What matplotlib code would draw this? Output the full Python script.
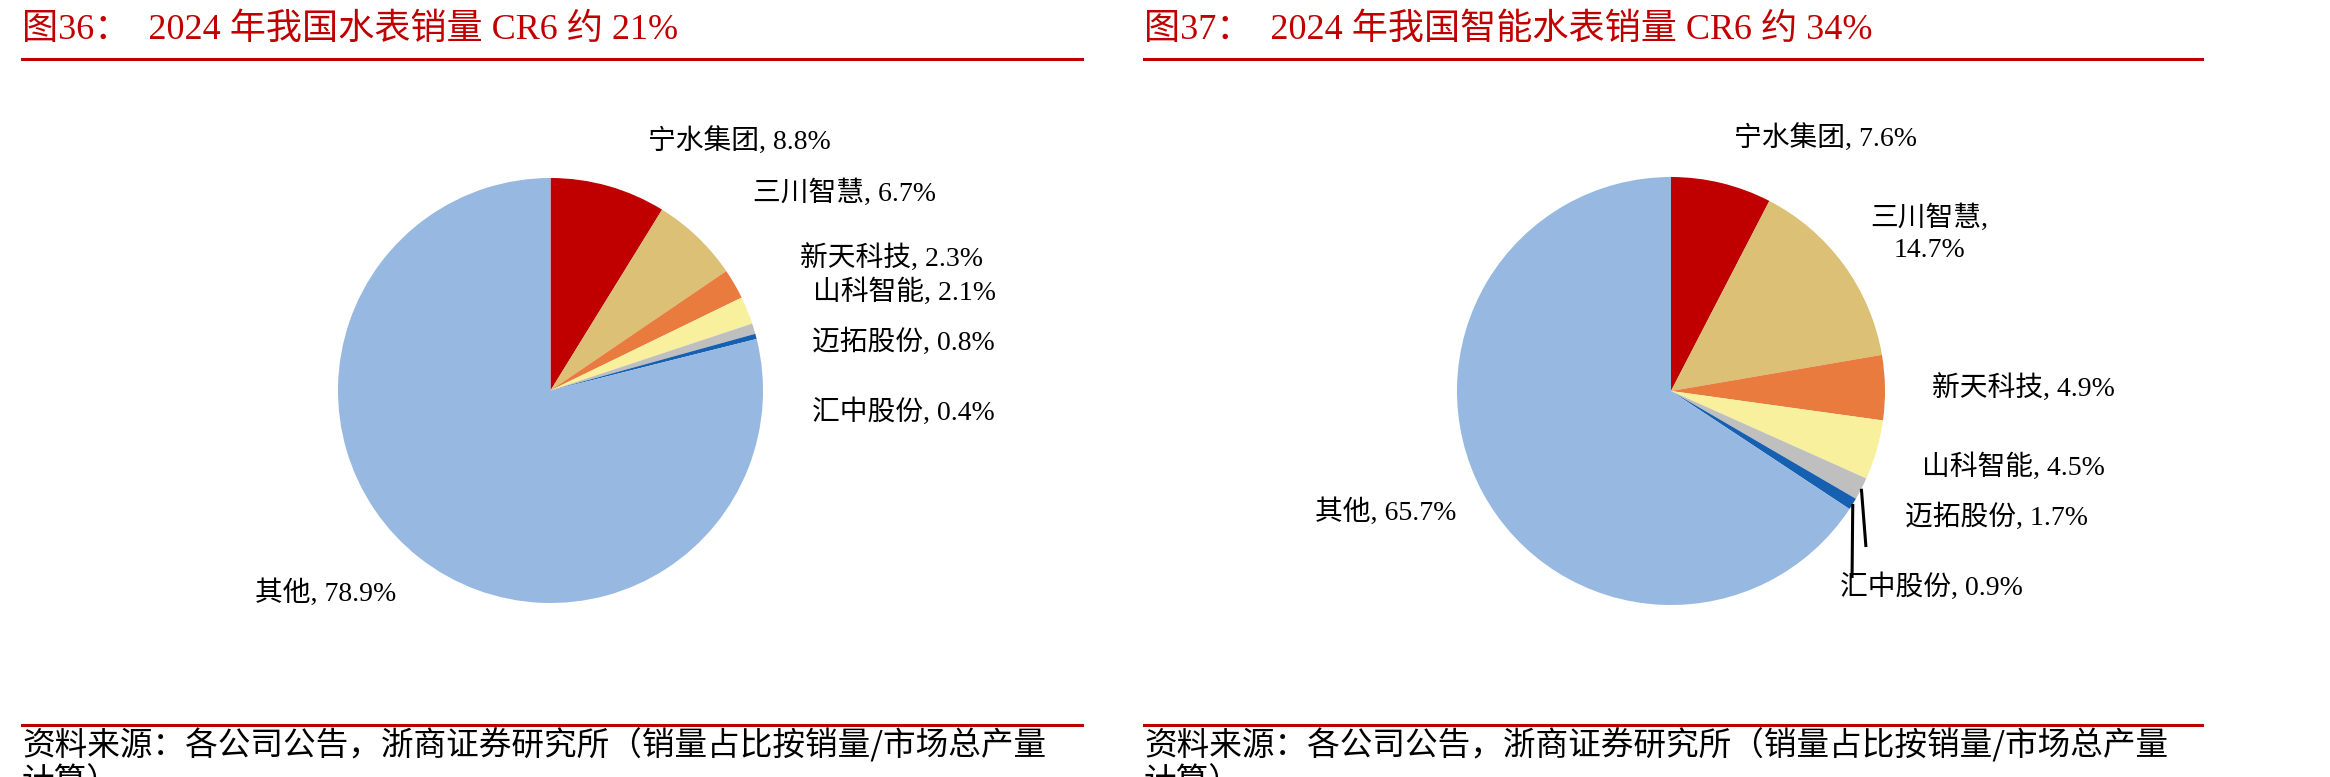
import matplotlib
matplotlib.use("Agg")
import matplotlib.pyplot as plt
import numpy as np

# ---------------- data ----------------
titles = ["图36：  2024 年我国水表销量 CR6 约 21%",
          "图37：  2024 年我国智能水表销量 CR6 约 34%"]
source_lines = ["资料来源：各公司公告，浙商证券研究所（销量占比按销量/市场总产量",
                "计算）"]

companies = ["宁水集团", "三川智慧", "新天科技", "山科智能", "迈拓股份", "汇中股份", "其他"]
share_all = [8.8, 6.7, 2.3, 2.1, 0.8, 0.4, 78.9]
share_smart = [7.6, 14.7, 4.9, 4.5, 1.7, 0.9, 65.7]

colors = ["#C00000", "#DBC075", "#E97B3F", "#F8F09C", "#BFBFBF", "#1560B0", "#97B8E0"]

# ---------------- layout (positions only) ----------------
W, H = 2330, 777
DPI = 100
pie_centers = [(550.5, 390.5), (1671, 391)]
pie_radius = [212.5, 214]

# label positions in pie-data units (radius = 1)
label_pos_left = [(0.888, 1.173), (1.383, 0.930), (1.607, 0.626), (1.664, 0.463),
                  (1.659, 0.229), (1.659, -0.103), (-1.056, -0.953)]
label_pos_right = [(0.724, 1.182), (1.206, 0.735), (1.645, 0.014), (1.598, -0.355),
                   (1.519, -0.589), (1.215, -0.916), (-1.332, -0.565)]
# leader-line end points (index of wedge -> end point)
leaders_right = {4: (0.911, -0.729), 5: (0.846, -0.874)}

mixed = ["Liberation Serif", "Noto Sans CJK SC"]
plt.rcParams["font.family"] = mixed

fig = plt.figure(figsize=(W / DPI, H / DPI), dpi=DPI)
fig.patch.set_facecolor("white")


def add_pie(center, r, values, label_pos, wrap_idx=None, leaders=None):
    cx, cy = center
    ax = fig.add_axes([(cx - r) / W, 1 - (cy + r) / H, 2 * r / W, 2 * r / H])
    wedges, _ = ax.pie(values, colors=colors, startangle=90, counterclock=False,
                       radius=1, wedgeprops=dict(linewidth=0))
    ax.set_xlim(-1, 1)
    ax.set_ylim(-1, 1)
    ax.set_aspect("equal")
    ax.axis("off")
    for i, (name, v) in enumerate(zip(companies, values)):
        sep = ",\n" if (wrap_idx is not None and i == wrap_idx) else ", "
        txt = f"{name}{sep}{v:.1f}%"
        x, y = label_pos[i]
        ax.text(x, y, txt, ha="center", va="center", fontsize=20,
                family=mixed, color="black", clip_on=False, linespacing=1.35)
    if leaders:
        for i, (ex, ey) in leaders.items():
            w = wedges[i]
            th = np.deg2rad((w.theta1 + w.theta2) / 2)
            sx, sy = np.cos(th), np.sin(th)
            ax.plot([sx, ex], [sy, ey], color="black", lw=2.2, clip_on=False,
                    solid_capstyle="butt")
    return ax


add_pie(pie_centers[0], pie_radius[0], share_all, label_pos_left)
add_pie(pie_centers[1], pie_radius[1], share_smart, label_pos_right, wrap_idx=1,
        leaders=leaders_right)

# titles, rules and sources
panels = [(22, 1082), (1144, 2202)]
for (x0, x1), title in zip(panels, titles):
    fig.text(x0 / W, 1 - 30 / H, title, ha="left", va="center", fontsize=26,
             color="#C00000", family=mixed)
    fig.add_artist(plt.Line2D([x0 / W, x1 / W], [1 - 59 / H, 1 - 59 / H],
                              color="#C00000", lw=2.2))
    fig.add_artist(plt.Line2D([x0 / W, x1 / W], [1 - 725 / H, 1 - 725 / H],
                              color="#C00000", lw=2.2))
    fig.text(x0 / W, 1 - 745 / H, source_lines[0], ha="left", va="center",
             fontsize=23.5, color="black", family=["Noto Sans CJK SC"])
    fig.text(x0 / W, 1 - 783 / H, source_lines[1], ha="left", va="center",
             fontsize=23.5, color="black", family=["Noto Sans CJK SC"])

fig.savefig("out.png", dpi=DPI, facecolor="white")
